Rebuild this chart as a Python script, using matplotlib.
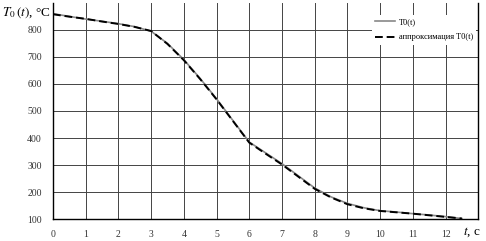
import matplotlib.pyplot as plt
import numpy as np

# time, s and temperature, C
t = [0, 0.5, 1, 1.5, 2, 2.5, 3, 3.5, 4, 4.5, 5, 5.5, 6, 6.5, 7, 7.5, 8, 8.5, 9, 9.5, 10, 10.5, 11, 11.5, 12, 12.5]
T0 = [860, 850, 840, 832, 823, 812, 795, 750, 690, 620, 545, 465, 385, 345, 305, 260, 215, 182, 158, 142, 131, 126, 120, 115, 109, 102]
T0_approx = [858, 849, 841, 831, 822, 811, 796, 748, 688, 618, 543, 463, 383, 342, 302, 257, 212, 180, 155, 140, 130, 125, 120, 114, 108, 102]

x_ticks = list(range(0, 13))
y_ticks = [100, 200, 300, 400, 500, 600, 700, 800]

plt.rcParams["font.family"] = ["Liberation Serif", "DejaVu Serif"]
plt.rcParams["mathtext.fontset"] = "stix"

fig = plt.figure(figsize=(4.86, 2.41), dpi=100)
ax = fig.add_axes([0.109, 0.091, 0.875, 0.897])

ax.plot(t, T0, color="#888888", linewidth=1.2, label="T0(t)")
ax.plot(t, T0_approx, color="black", linewidth=1.4, linestyle=(0, (4, 2)), label="аппроксимация T0(t)")

ax.set_xlim(0, 13)
ax.set_ylim(100, 900)
ax.set_xticks(x_ticks)
ax.set_yticks(y_ticks)
ax.tick_params(length=0, labelsize=7, colors="#333333", pad=8)
ax.grid(True, color="#444444", linewidth=0.7)
for s in ax.spines.values():
    s.set_color("black")
    s.set_linewidth(1)
ax.spines["top"].set_visible(False)

# axis labels
fig.text(0.004, 1 - 13 / 241, r"$T_0\,(t)$, °C", ha="left", va="center", fontsize=9.5)
fig.text(0.99, 1 - 232 / 241, r"$t$, c", ha="right", va="center", fontsize=9.5)

leg = ax.legend(loc="upper right", bbox_to_anchor=(1.005, 0.965), frameon=True, fontsize=6,
                handlelength=2.4, labelspacing=0.9, borderpad=0.4, handletextpad=0.4)
leg.get_frame().set_edgecolor("none")
leg.get_frame().set_facecolor("white")
leg.get_frame().set_alpha(1)

plt.savefig("out.png", dpi=100)
